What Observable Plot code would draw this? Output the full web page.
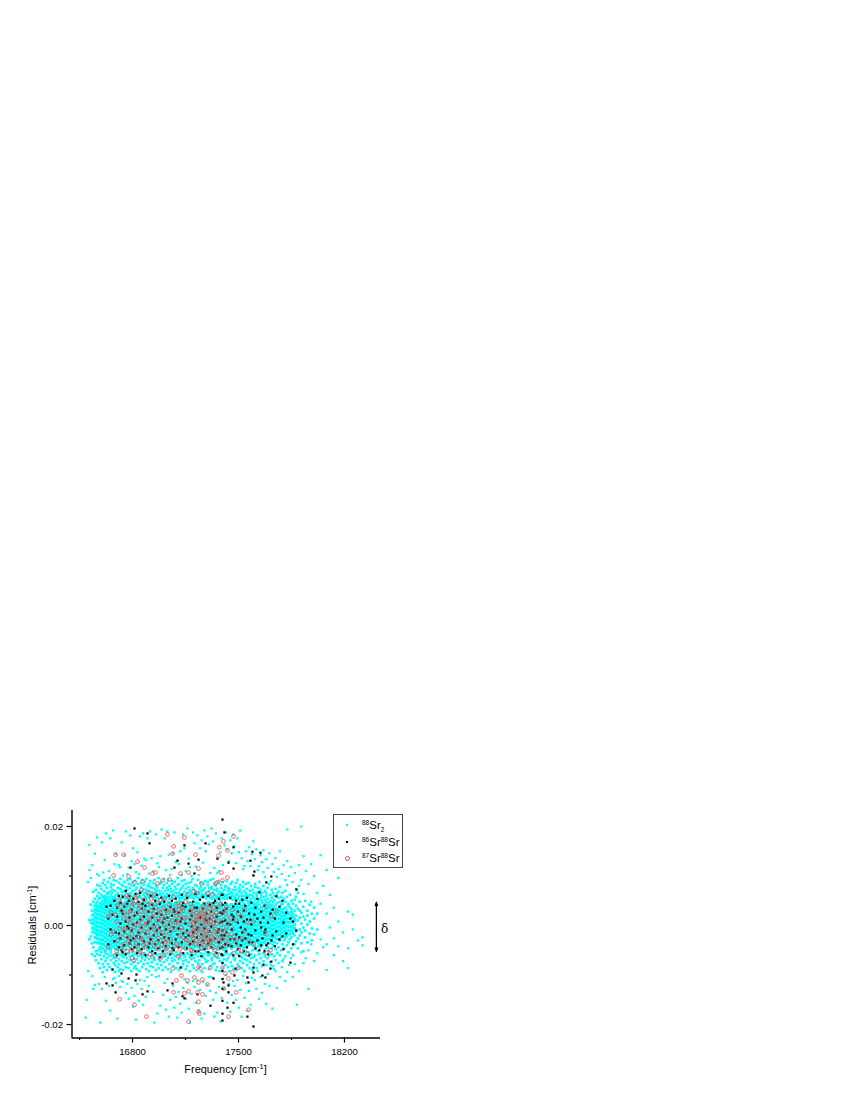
<!DOCTYPE html>
<html><head><meta charset="utf-8">
<script src="https://cdn.jsdelivr.net/npm/d3@7"></script>
<script src="https://cdn.jsdelivr.net/npm/@observablehq/plot@0.6"></script>
<style>
html,body{margin:0;padding:0;background:#fff}
#wrap{position:relative;width:850px;height:1100px;font-family:"Liberation Sans",Arial,sans-serif}
#legend{position:absolute;left:333px;top:814px;width:68px;height:52px;border:1px solid #444;box-sizing:content-box;font-size:11.5px;color:#000}
#legend div{position:absolute;left:28px;white-space:nowrap;line-height:14px}
#legend sup{font-size:6.5px;vertical-align:baseline;position:relative;top:-4px}
#legend sub{font-size:6.5px;vertical-align:baseline;position:relative;top:3px}
#legend i{position:absolute;display:block}
</style></head><body><div id="wrap"></div>
<script>
// Each row: frequency [cm-1], residuals [1e-4 cm-1]
const cyanCore=[
[16538,[12,4,-5,-13,21]],[16554,[26,17,9,1,-7,-15,-24,33]],[16570,[38,30,22,14,6,-2,-10,-18,-26,-35]],[16587,[44,37,29,21,13,5,-3,-12,-19,-28,-36,-45]],[16603,[49,42,34,27,19,11,3,-5,-13,-21,-29,-38,-47]],
[16620,[50,46,39,31,24,16,8,0,-8,-16,-24,-33,-41,-50]],[16636,[50,43,35,28,20,12,4,-4,-12,-20,-28,-36,-45]],[16653,[47,40,32,25,17,9,1,-7,-15,-23,-31,-39,-48]],[16670,[51,44,36,29,21,13,5,-3,-11,-19,-27,-35,-43]],[16686,[48,41,33,26,18,10,2,-6,-14,-22,-30,-38,-46]],
[16703,[45,38,30,22,14,6,-2,-10,-18,-26,-34,-42,-49]],[16720,[49,42,34,27,19,11,3,-5,-13,-21,-29,-37,-45]],[16736,[44,37,29,21,13,5,-3,-11,-19,-28,-36,-44]],[16753,[47,40,32,24,16,8,0,-8,-16,-24,-32,-40,-48]],[16770,[46,39,31,23,15,7,-1,-9,-17,-25,-33,-41]],
[16786,[50,43,35,27,19,11,3,-5,-13,-21,-29,-37,-46]],[16803,[48,41,33,25,17,9,1,-7,-15,-23,-31,-39,-47]],[16820,[44,36,28,20,12,4,-4,-12,-20,-28,-36,-44]],[16836,[46,38,30,22,14,6,-2,-10,-18,-26,-34,-42,-50]],[16853,[43,35,27,19,11,3,-5,-13,-21,-30,-38,-47]],
[16870,[49,41,34,26,18,10,2,-6,-14,-22,-30,-38,-46]],[16886,[45,37,29,21,13,5,-3,-11,-19,-27,-35,-43]],[16903,[47,39,31,23,15,7,-1,-9,-17,-25,-33,-41,-49]],[16920,[42,34,26,18,10,2,-6,-14,-22,-30,-38,-46]],[16936,[44,37,29,21,13,5,-3,-11,-19,-27,-35,-44]],
[16953,[48,40,32,24,16,8,0,-8,-16,-24,-32,-40,-48]],[16970,[43,35,27,19,11,3,-5,-13,-21,-29,-37,-45]],[16986,[46,38,30,22,14,6,-2,-10,-18,-26,-34,-42]],[17003,[45,37,29,21,13,5,-3,-11,-19,-27,-35,-43,-50]],[17020,[41,33,25,17,9,1,-7,-15,-23,-31,-39,-47]],
[17036,[47,39,32,24,16,8,0,-8,-16,-24,-32,-41]],[17053,[44,36,28,20,12,4,-4,-12,-20,-28,-36,-44]],[17070,[42,34,26,18,10,2,-6,-14,-22,-30,-38,-46]],[17086,[46,38,30,22,14,6,-2,-10,-18,-26,-34,-42]],[17103,[45,37,29,21,13,5,-3,-11,-19,-27,-35,-43]],
[17120,[48,40,32,24,16,8,0,-8,-16,-24,-32,-40]],[17136,[43,35,27,19,11,3,-5,-13,-21,-29,-37,-45]],[17153,[41,33,25,17,9,1,-7,-15,-23,-31,-39,-47]],[17170,[46,38,31,23,15,7,-1,-9,-17,-25,-33,-41]],[17186,[44,36,28,20,12,4,-4,-12,-20,-28,-36,-44]],
[17203,[41,33,25,17,9,1,-7,-15,-23,-31,-39,-47]],[17220,[47,39,31,23,15,7,-1,-9,-17,-25,-33,-41]],[17236,[44,36,28,20,12,4,-4,-12,-20,-28,-36,-45]],[17253,[40,32,24,16,8,0,-8,-16,-24,-32,-40,-48]],[17270,[45,37,29,21,13,5,-3,-11,-19,-27,-35,-43]],
[17286,[42,34,26,18,10,2,-6,-14,-22,-30,-38,-46]],[17303,[47,39,31,23,15,7,-1,-9,-17,-25,-33,-41]],[17320,[44,36,28,20,12,4,-4,-12,-20,-28,-36,-44]],[17336,[41,33,25,17,9,1,-7,-15,-23,-31,-39,-47]],[17353,[46,38,30,22,14,6,-2,-10,-18,-26,-34,-42]],
[17370,[42,34,26,18,10,2,-6,-14,-22,-30,-38,-46]],[17386,[45,37,29,21,13,5,-3,-11,-19,-27,-35,-43]],[17403,[40,32,24,16,8,0,-8,-16,-24,-32,-40,-48]],[17420,[43,35,27,19,11,3,-5,-13,-21,-29,-37,-45]],[17436,[39,31,23,15,7,-1,-9,-17,-25,-33,-41]],
[17453,[42,34,26,18,10,2,-6,-14,-22,-30,-38,-46]],[17470,[38,30,22,14,6,-2,-10,-18,-26,-34,-42]],[17486,[40,33,25,17,9,1,-7,-15,-23,-31,-39]],[17503,[44,36,28,20,12,4,-4,-12,-20,-28,-36,-44]],[17520,[38,31,23,15,7,-1,-9,-17,-25,-33,-41]],
[17536,[42,35,27,19,11,3,-5,-13,-21,-29,-37,-45]],[17553,[37,29,21,13,5,-3,-11,-19,-27,-35,-43]],[17570,[41,33,26,18,10,2,-6,-14,-22,-30,-38]],[17586,[35,27,19,11,3,-5,-13,-21,-29,-37]],[17603,[40,32,24,16,8,0,-8,-16,-24,-32,-41]],
[17620,[38,31,23,15,7,-1,-9,-17,-25,-33]],[17636,[33,25,17,9,1,-7,-15,-23,-31,-38]],[17653,[36,29,21,13,5,-3,-11,-19,-27,-35]],[17670,[30,22,14,6,-2,-10,-18,-26,-34]],[17686,[34,27,19,11,3,-5,-13,-21,-29]],
[17703,[36,28,20,12,4,-4,-12,-20,-28]],[17720,[31,24,16,8,0,-8,-16,-24,-32]],[17736,[33,25,17,9,1,-7,-15,-23]],[17753,[28,21,13,5,-3,-11,-19,-27]],[17770,[30,22,14,6,-2,-10,-18]],
[17786,[26,18,10,2,-6,-14,-22]],[17803,[20,12,4,-4,-12,-20]],[17820,[23,15,7,-1,-9,-17]],[17836,[14,6,-2,-10]],[17853,[17,8,-3,-12]],[17870,[10,2,-6]]
];
const cyanMid=[
[16515,[11,-28]],[16524,[42,-22,6]],[16532,[-36,30,-58]],[16541,[48,-44,68]],[16550,[-62,40,54,-34]],[16558,[72,-52,44,-70]],[16567,[-58,60,48,82]],[16576,[66,-76,-50,54]],[16585,[80,-60,56,-86]],[16594,[62,-68,74,-54]],[16603,[-78,86,58,-94]],
[16612,[70,-62,56,-84,92]],[16621,[60,-72,82,-56,54]],[16630,[76,-66,58,-90,66]],[16639,[88,-58,64,-78,52]],[16648,[68,-84,56,-62,96]],[16657,[60,-70,78,-54,84]],[16666,[72,-88,54,-60,66]],[16675,[82,-66,58,-76,92]],[16684,[56,-80,70,-58,-94]],[16693,[90,-64,62,-72,54]],
[16702,[66,-84,76,-56,60]],[16711,[58,-68,86,-78,-92]],[16720,[74,-60,94,54,-88]],[16729,[62,-72,82,-54,68]],[16738,[80,-64,56,-90,-58]],[16747,[70,-76,60,88,-62]],[16756,[54,-84,66,-58,78]],[16765,[92,-66,72,-74,56]],[16774,[60,-56,84,-86,64]],[16783,[76,-70,54,-62,94]],
[16792,[66,-78,58,-92,82]],[16801,[88,-60,70,-54,60]],[16810,[56,-74,80,-66,-86]],[16819,[72,-58,62,-82,90]],[16828,[64,-88,54,-68,76]],[16837,[84,-62,58,-76,96]],[16846,[60,-54,70,-92,66]],[16855,[78,-72,56,-60,86]],[16864,[54,-84,92,-66,68]],[16873,[74,-58,62,-78,82]],
[16882,[66,-70,88,-56,58]],[16891,[94,-64,54,-88,72]],[16900,[60,-76,80,-60,64]],[16909,[56,-92,70,-68,84]],[16918,[78,-54,62,-82,90]],[16927,[68,-62,58,-74,76]],[16936,[86,-84,54,-58,64]],[16945,[60,-70,92,-66,74]],[16954,[56,-90,68,-56,82]],[16963,[72,-60,78,-78,58]],
[16972,[96,-68,54,-86,62]],[16981,[64,-58,84,-72,70]],[16990,[56,-80,60,-64,88]],[16999,[76,-54,66,-90,52]],[17008,[60,-74,94,-60,82]],[17017,[70,-62,54,-84,58]],[17026,[86,-70,64,-56,76]],[17035,[58,-88,72,-66,92]],[17044,[62,-60,80,-78,54]],[17053,[74,-54,56,-94,68]],
[17062,[90,-66,60,-72,84]],[17071,[54,-82,70,-58,64]],[17080,[78,-62,88,-70,56]],[17089,[66,-54,58,-86,74]],[17098,[60,-76,96,-60,82]],[17107,[84,-68,54,-90,66]],[17116,[72,-58,62,-66,56]],[17125,[56,-84,76,-56,90]],[17134,[64,-72,80,-78,58]],[17143,[92,-60,68,-64,54]],
[17152,[60,-88,74,-70,84]],[17161,[54,-56,62,-82,66]],[17170,[78,-74,86,-58,56]],[17179,[68,-64,58,-92,72]],[17188,[88,-54,64,-68,60]],[17197,[56,-80,76,-60,94]],[17206,[72,-66,54,-86,62]],[17215,[60,-58,82,-72,70]],[17224,[80,-90,58,-54,66]],[17233,[64,-62,92,-76,56]],
[17242,[54,-70,74,-84,68]],[17251,[86,-56,60,-62,78]],[17260,[70,-78,56,-94,64]],[17269,[58,-64,84,-58,72]],[17278,[76,-86,62,-68,90]],[17287,[66,-54,54,-74,60]],[17296,[82,-72,88,-60,58]],[17305,[60,-60,70,-88,76]],[17314,[56,-82,64,-56,92]],[17323,[74,-66,78,-70,54]],
[17332,[94,-58,56,-78,66]],[17341,[62,-76,84,-62,72]],[17350,[54,-90,60,-54,80]],[17359,[70,-64,74,-84,58]],[17368,[86,-56,64,-66,90]],[17377,[58,-72,52,-92,68]],[17386,[76,-60,82,-58,60]],[17395,[66,-86,56,-74,88]],[17404,[54,-68,72,-60,62]],[17413,[80,-54,60,-80,78]],
[17422,[62,-70,90,-56,54]],[17431,[70,-84,58,-66,76]],[17440,[56,-60,74,-92,64]],[17449,[84,-74,54,-58,68]],[17458,[60,-56,66,-82,88]],[17467,[72,-88,60,-62,52]],[17476,[54,-66,78,-70,58]],[17485,[64,-52,86,-90,72]],[17494,[92,-78,54,-58,62]],[17503,[58,-60,68,-84,76]],
[17512,[72,-72,50,-54,82]],[17521,[54,-86,60,-64,66]],[17530,[78,-56,88,-76,48]],[17539,[60,-68,52,-92,70]],[17548,[66,-60,84,-52,56]],[17557,[50,-80,62,-70,74]],[17566,[86,-54,46,-62,58]],[17575,[62,-74,70,-86,50]],[17584,[48,-58,80,-66,54]],[17593,[72,-90,44,-50,60]],
[17602,[56,-64,66,-78,46]],[17611,[78,-48,52,-60,84]],[17620,[44,-70,60,-86,64]],[17629,[68,-52,48,-42,76]],[17638,[52,-76,88,-58,42]],[17647,[62,-44,56,-66,72]],[17656,[46,-82,66,-40,50]],[17665,[80,-56,40,-72,58]],[17674,[44,-62,70,-48,52]],[17683,[60,-38,48,-80,66]],
[17692,[42,-66,76,-44,54]],[17701,[84,-52,38,-60,46]],[17710,[50,-36,62,-74,40]],[17719,[42,-58,72,-46,56]],[17728,[66,-40,36,-82,48]],[17737,[38,-62,52,-34,60]],[17746,[74,-48,42,-70,34]],[17755,[46,-36,64,-56,30]],[17764,[56,-28,34,-44,68]],[17773,[36,-60,48,-30,78]],
[17782,[42,-24,58,-50,32]],[17791,[66,-38,28,-72,44]],[17800,[34,-30,54,-46,26]],[17810,[48,-26,36,-62,70]],[17820,[30,-40,58,-22,82]],[17830,[44,-34,26,-54,40]],[17840,[22,-28,62,-18,36]],[17850,[34,-46,50,-24,28]],[17860,[24,-16,44,-60,18]],[17870,[30,-38,14,-20,52]],
[17880,[20,-12,40,-32,58]],[17892,[34,-26,10,-46,66]],[17904,[16,-20,30,-8,48]],[17916,[26,-36,4,-14]],[17928,[38,-4,18,-52]],[17940,[12,-24,50,-10]],[17955,[30,2,-34,20]],[17970,[-16,42,8]],[17985,[24,-30,-6]],[18000,[14,-18,36]],[18020,[-8,24]]
];
const cyanSparse=[
[16490,[-186]],[16497,[-150]],[16507,[-92,88]],[16515,[163,112]],[16524,[96]],[16534,[122,-102]],[16542,[-128]],[16551,[145,-120]],[16566,[178,104]],[16578,[-118,101]],[16588,[-196]],[16597,[168,-128]],[16606,[107]],[16616,[132,-104]],[16625,[186,-152]],
[16644,[-122,110]],[16653,[176,-172]],[16672,[192,-108]],[16681,[-106,124]],[16690,[145,-116]],[16700,[-188]],[16709,[122,-102]],[16718,[-124,118]],[16728,[168,-112]],[16737,[-114,101]],[16747,[142]],[16756,[190,-136]],[16766,[104,-118]],[16775,[117,-148]],[16785,[182]],[16794,[-126,130]],
[16804,[156,-164]],[16813,[124,-142]],[16822,[-190,108]],[16832,[-118,148]],[16841,[104,-152]],[16850,[180,-110]],[16860,[-128,121]],[16870,[186,-160]],[16879,[-112,135]],[16888,[-144,132]],[16898,[176,-104]],[16908,[-122,105]],[16917,[190]],[16926,[-100,136]],[16936,[-134,109]],[16945,[-196]],
[16955,[184,-104]],[16964,[126,-178]],[16974,[-102,118]],[16983,[-162,140]],[16992,[194]],[17002,[-140]],[17012,[176,-116]],[17021,[-170,112]],[17030,[190,-108]],[17040,[-184,143]],[17049,[-150,102]],[17058,[114]],[17068,[146,-122]],[17077,[188,-166]],[17086,[-144,128]],[17096,[-186]],
[17106,[-134,124]],[17115,[150,-158]],[17124,[-176,102]],[17134,[184,-126]],[17143,[156,-108]],[17152,[-148,110]],[17162,[196,-116]],[17171,[-168,135]],[17180,[-196,118]],[17190,[-138,100]],[17200,[188,-112]],[17209,[166,-124]],[17218,[-156,119]],[17228,[182,-110]],[17237,[-172,102]],
[17247,[156,-130]],[17256,[172,-188]],[17266,[-114,127]],[17275,[192,-178]],[17284,[150,-142]],[17294,[180,-120]],[17304,[164,-104]],[17313,[-132,106]],[17322,[196,-104]],[17332,[170,-150]],[17341,[-184,116]],[17351,[186,-136]],[17360,[-176,106]],[17370,[-124,110]],[17380,[148,-194]],
[17389,[176,-146]],[17398,[-108,122]],[17408,[162,-128]],[17417,[188,-100]],[17426,[154,-156]],[17436,[-118,130]],[17446,[172,-174]],[17455,[-140,146]],[17464,[-112,184]],[17474,[160,-122]],[17484,[-150,126]],[17493,[176,-110]],[17502,[148,-166]],[17512,[192,-130]],[17521,[-184,136]],
[17531,[114,-102]],[17540,[-146,120]],[17550,[150,-116]],[17560,[130,-172]],[17570,[158,-132]],[17580,[120,-160]],[17589,[144,-106]],[17598,[170,101]],[17608,[134,-110]],[17618,[154,-128]],[17627,[112,-92]],[17636,[120,-148]],[17646,[142,-104]],[17656,[128,-136]],[17665,[152,108]],[17675,[98,-118]],
[17684,[134,-158]],[17694,[116,-98]],[17704,[146,-122]],[17714,[90,-80]],[17724,[124,-168]],[17734,[108,-88]],[17744,[136,-92]],[17754,[98,-126]],[17764,[114,-76]],[17774,[150,-104]],[17786,[104,-84]],[17798,[122,-68]],[17810,[92,-112]],[17822,[194,130,-94]],[17834,[100,-80]],[17846,[118,-66]],
[17858,[88,-104]],[17872,[106,-78]],[17886,[72,-160]],[17900,[122,80,-92]],[17915,[200,92,-54]],[17930,[140,64,-76]],[17945,[110,-66]],[17962,[84,-50,-128]],[17980,[124,48,-38]],[18000,[100,-72]],[18020,[66,-56]],[18042,[142,44,-28]],[18060,[80,-44]],[18082,[112,24,-38,-90]],[18105,[62,-4]],[18130,[36,-26,-60]],
[18160,[96,8,-42]],[18190,[-14,-72]],[18225,[28,-46,-86]],[18255,[22,-8]],[18290,[-30]],[18320,[-24,-40]]
];
const blackColumns=[
[16628,[-117,38]],[16668,[-121,-89,22]],[16688,[-135,-14]],[16727,[-97,30,-50]],[16774,[-107,50,-6]],[16787,[117,-30]],[16813,[196,20,-44]],[16820,[-111,64]],[16826,[-99,-22]],[16866,[-139,44]],[16899,[186,-133,4]],[16912,[166,-36]],[17031,[-131,16]],[17064,[-117,-46]],[17077,[117,28]],[17097,[131,-18]],
[17117,[-85,8]],[17130,[-143,40]],[17143,[162,-147]],[17170,[125,-20]],[17209,[105,36]],[17229,[-139,-4]],[17236,[133,-52]],[17282,[166,12]],[17315,[-162,-30]],[17335,[-107,46]],[17361,[135,-14]],[17394,[214,-192,-178,-152,-128,-108,-92,-76,-60,-44,-28,-10,8,24,42,62]],[17401,[-115,30]],[17407,[188,-20]],[17427,[-166,4]],
[17434,[127,-121,-135,-40]],[17467,[158,115,-156,18]],[17473,[-101,-28]],[17480,[-87,44]],[17559,[-184,-105]],[17566,[-115,-18]],[17579,[131,12]],[17592,[149,-34]],[17599,[101,-204,-95,-85]],[17605,[109,22]],[17638,[67,-50]],[17645,[147,6]],[17658,[-101,-26]],[17665,[-79,16]],[17678,[-105,-8]],[17684,[87,-40]],[17711,[-87,24]],[17717,[99,-73,-30]],[17750,[59,-12]],[17790,[50,-22]],[17797,[-48,6]],[17843,[-75,14]],[17882,[73,-10]],
[16640,[14,-38]],[16655,[40,-8]],[16680,[50,-32]],[16698,[-60,18,36]],[16710,[60,-16,-44]],[16720,[4,-26,46]],[16735,[-54,24,58]],[16745,[-12,38,-40]],[16755,[70,8,-58]],[16765,[-24,44,-2]],[16780,[-36,16,60]],[16795,[32,-48,-10]],[16805,[54,2,-26]],[16830,[-56,26,6]],[16840,[-14,48,-38]],[16850,[66,-24,12]],
[16860,[-48,34,-4]],[16875,[18,-32,52]],[16885,[-16,40,-60]],[16905,[28,-44,8]],[16920,[60,-6,-28]],[16930,[-52,16,42]],[16940,[2,-20,34]],[16950,[50,-38,-56]],[16960,[-10,24,62]],[16970,[-30,10,-46]],[16980,[44,-64,-4]],[16990,[22,-18,56]],[17000,[-34,6,-52]],[17010,[48,14,-24]],[17020,[-8,32,-42]],[17040,[60,-26,2]],
[17050,[-58,38,-12]],[17060,[20,-36,50]],[17072,[-4,-50,32]],[17085,[54,10,-28]],[17105,[-44,26,-6]],[17125,[62,-34,14]],[17135,[-16,46,-56]],[17150,[4,-24,38]],[17160,[-46,56,-10]],[17180,[30,-38,12]],[17190,[-60,20,-2]],[17200,[48,-14,-32]],[17215,[6,-52,64]],[17225,[-24,36,-8]],[17245,[52,-40,16]],[17255,[-18,2,-62]],
[17265,[34,-30,58]],[17275,[-6,44,-48]],[17290,[24,-22,10]],[17300,[-36,60,-54]],[17310,[14,-12,42]],[17320,[-44,28,-2]],[17345,[50,-26,8]],[17355,[-56,18,36]],[17370,[-8,-34,54]],[17380,[26,-46,6]],[17388,[62,-20,-58]],[17412,[10,-38,46]],[17420,[-14,34,-52]],[17445,[56,-28,2]],[17455,[-42,22,-8]],[17465,[38,-60,12]],
[17485,[-18,50,-36]],[17495,[6,-48,28]],[17505,[44,-24,-62]],[17515,[-4,18,-40]],[17525,[52,-14,-30]],[17535,[30,-52,8]],[17545,[-26,40,-8]],[17556,[12,-44,56]],[17570,[-34,24,-60]],[17585,[2,46,-20]],[17612,[36,-46,-10]],[17625,[-30,14,54]],[17650,[28,-40,-4]],[17672,[40,-14,-52]],[17695,[6,-36,-58]],[17725,[-20,32]],[17740,[14,-42]],[17770,[38,-28]],[17815,[-16,26]],[17860,[-38,8]]
];
const redColumns=[
[16640,[18,-44]],[16675,[101,-12]],[16688,[143,-61,22]],[16700,[-30,40]],[16714,[-149,52,-6]],[16728,[30,-46]],[16741,[143,-38,14]],[16752,[40,-20,-6]],[16763,[60,-52,22]],[16774,[99,58,-24]],[16782,[6,-40,28]],[16790,[-50,30,-8]],[16799,[-66,48,16]],[16807,[-71,44,-28]],[16813,[87,-160,-4]],[16824,[24,-36,56]],
[16833,[129,60,-42]],[16842,[8,-16,34]],[16850,[38,-54,-10]],[16858,[72,-26,12]],[16866,[89,-30,-58]],[16879,[117,52,-12]],[16885,[-44,28,2]],[16892,[-184,4,-36]],[16904,[66,-20,42]],[16915,[-58,10,-6]],[16925,[30,-34,54]],[16932,[105,-64,18]],[16944,[62,-8,-42]],[16952,[107,-18,36]],[16965,[85,46,-2]],[16972,[-48,14,-26]],
[16985,[-66,52,26]],[16998,[91,-14,6]],[17006,[36,-60,-30]],[17015,[54,-34,18]],[17023,[-6,-48,30]],[17031,[184,-44,26]],[17044,[93,-16,42]],[17052,[-54,4,-28]],[17064,[145,-87,10]],[17071,[160,-135,58]],[17080,[-8,-42,26]],[17090,[-111,-36,20]],[17100,[46,-62,4]],[17108,[-20,14,32]],[17117,[105,-58,-40]],[17123,[-101,-4,40]],[17134,[8,30,-24]],[17143,[178,-137,16]],
[17150,[-28,-46,48]],[17163,[-111,62,-14]],[17170,[107,-194,-133]],[17178,[28,2,-36]],[17185,[44,-18,-50]],[17192,[-22,12,-52,36]],[17197,[-6,22,-34]],[17203,[69,-26,6,-12]],[17209,[-105,30,-4]],[17216,[143,-20,8,-38]],[17222,[26,-10,14,-30]],[17229,[65,-135,2,18]],[17236,[115,-83,-115,-154,-174,-6,12]],[17242,[-178,-38,22,-18]],[17249,[-87,-28,16,32]],[17255,[85,-46,-8,24]],[17262,[-139,-109,6,-32]],
[17268,[-14,18,38,-26]],[17275,[-4,14,30,-40]],[17282,[-22,8,24,-12]],[17288,[-34,2,42]],[17295,[65,-119,-24,20]],[17302,[-10,6,-44,28]],[17309,[-16,34,-30]],[17315,[-85,-34,8,42]],[17322,[-2,16,-22]],[17328,[63,-42,24]],[17335,[-26,4,12,36]],[17342,[-12,-50,20]],[17348,[85,-30,-8]],[17354,[26,-60,4]],[17361,[87,-18,36]],[17368,[141,-46,10]],[17374,[158,22,-34]],[17381,[-10,-24,44]],[17387,[107,2]],
[17394,[91,-85,-26]],[17401,[170,-127,-42]],[17408,[12,-12,30]],[17414,[-97,24,-30]],[17420,[-4,38]],[17427,[152,97,-18]],[17434,[-184,-107,-38]],[17446,[16,6,-24]],[17460,[-95,32,-8]],[17467,[180,-22,-56]],[17486,[-135,-30,10]],[17500,[24,-85,-44]],[17520,[18,-26,-52]],[17540,[-12,32]],[17559,[-57,6]],[17566,[-170,-30]],[17600,[8,-38]],[17678,[38,-16]],[17684,[-55]],[17711,[-50]],[17717,[18]],[17750,[28]],
[16658,[26,-18]],[16695,[8,-52]],[16720,[-22,44]],[16746,[-8,26]],[16770,[10,-32]],[16795,[-18,38]],[16818,[2,-50]],[16838,[46,-24]],[16855,[-2,22]],[16872,[34,-40]],[16898,[16,-14]],[16920,[-28,44]],[16940,[24,-2]],[16960,[-34,10]],[16978,[30,-12]],[16992,[-40,14]],[17010,[2,-20]],[17038,[12,-32]],[17058,[30,-6]],[17086,[6,38]],[17112,[-48,22]],[17128,[-10,34]],[17157,[16,-30]]
];
const flatten=cols=>cols.flatMap(([f,rs])=>rs.map(r=>({f,r:r/10000})));
const xMajor=[16800,17500,18200], xMinor=[16450,17150,17850];
const yMajor=[-0.02,0,0.02], yMinor=[-0.01,0.01];
const plot=Plot.plot({
  width:850,height:1100,marginLeft:71.5,marginRight:470,marginTop:810,marginBottom:62.5,
  style:{fontFamily:'"Liberation Sans",Arial,sans-serif',background:"#fff",color:"#000",overflow:"visible"},
  x:{domain:[16400,18438]},
  y:{domain:[-0.02272,0.02323]},
  marks:[
    Plot.axisX({ticks:xMajor,tickSize:5,tickPadding:5,fontSize:9.6,label:null,tickFormat:d=>String(d),strokeWidth:1.2}),
    Plot.axisX({ticks:xMinor,tickSize:2.5,tickFormat:()=>"",label:null,strokeWidth:1.2}),
    Plot.axisY({ticks:yMajor,tickSize:5,tickPadding:4,fontSize:9.6,label:null,tickFormat:d=>d3.format(".2f")(d).replace("−","-"),strokeWidth:1.2}),
    Plot.axisY({ticks:yMinor,tickSize:2.5,tickFormat:()=>"",label:null,strokeWidth:1.2}),
    Plot.ruleX([16400],{strokeWidth:1.4,stroke:"#000"}),
    Plot.ruleY([-0.02272],{strokeWidth:1.4,stroke:"#000"}),
    Plot.dot(flatten(cyanCore),{x:"f",y:"r",symbol:"square",r:1.9,fill:"#00ffff",stroke:"none"}),
    Plot.dot(flatten(cyanMid),{x:"f",y:"r",symbol:"square",r:1.5,fill:"#00ffff",stroke:"none"}),
    Plot.dot(flatten(cyanSparse),{x:"f",y:"r",symbol:"square",r:1.3,fill:"#00ffff",stroke:"none"}),
    Plot.dot(flatten(blackColumns),{x:"f",y:"r",symbol:"square",r:1.25,fill:"#000",stroke:"none"}),
    Plot.dot(flatten(redColumns),{x:"f",y:"r",r:1.9,fill:"none",stroke:"#f04848",strokeWidth:0.8}),
    Plot.arrow([{a:18411,b:0.0047,c:18411,d:-0.0052}],{x1:"c",y1:"d",x2:"a",y2:"b",stroke:"#000",strokeWidth:1.1,headLength:5,headAngle:40}),
    Plot.arrow([{a:18411,b:-0.0052,c:18411,d:0.0047}],{x1:"c",y1:"d",x2:"a",y2:"b",stroke:"#000",strokeWidth:1.1,headLength:5,headAngle:40}),
    Plot.text(["δ"],{x:()=>18465,y:()=>-0.0008,fontSize:12,fontFamily:"DejaVu Serif",fill:"#000"})
  ]
});
const svg=d3.select(plot);
const xl=svg.append("text").attr("x",225.5).attr("y",1073).attr("text-anchor","middle").attr("font-size",11).attr("fill","#000");
xl.append("tspan").text("Frequency [cm");xl.append("tspan").attr("font-size",7.5).attr("dy",-4).text("-1");xl.append("tspan").attr("dy",4).text("]");
const yl=svg.append("text").attr("transform","translate(36,925) rotate(-90)").attr("text-anchor","middle").attr("font-size",11).attr("fill","#000");
yl.append("tspan").text("Residuals [cm");yl.append("tspan").attr("font-size",7.5).attr("dy",-4).text("-1");yl.append("tspan").attr("dy",4).text("]");
const wrap=document.getElementById("wrap");
wrap.appendChild(plot);
const lg=document.createElement("div");lg.id="legend";
lg.innerHTML=`
<i style="left:12px;top:9px;width:2px;height:2px;background:#00ffff"></i>
<div style="top:3px"><sup>88</sup>Sr<sub>2</sub></div>
<i style="left:12px;top:26px;width:2px;height:2px;background:#000"></i>
<div style="top:20px"><sup>86</sup>Sr<sup>88</sup>Sr</div>
<i style="left:10.5px;top:41px;width:3px;height:3px;border:0.8px solid #f04848;border-radius:50%"></i>
<div style="top:36px"><sup>87</sup>Sr<sup>88</sup>Sr</div>`;
wrap.appendChild(lg);
</script></body></html>
